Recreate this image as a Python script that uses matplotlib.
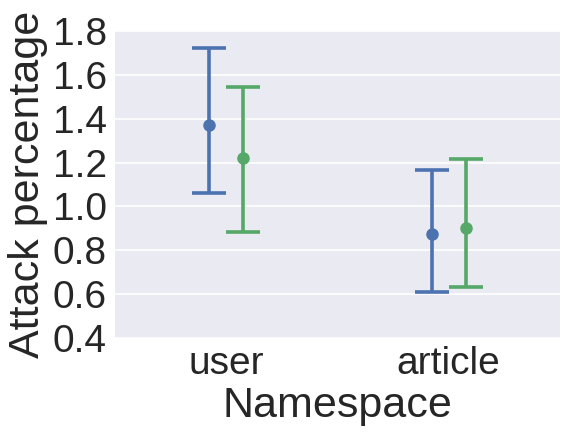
import numpy as np
import matplotlib
matplotlib.use('Agg')
import matplotlib.pyplot as plt

namespaces = ['user', 'article']
# two hue groups (blue, green)
blue_mean = [1.371, 0.874]
blue_low = [1.061, 0.610]
blue_high = [1.722, 1.166]
green_mean = [1.221, 0.902]
green_low = [0.883, 0.633]
green_high = [1.545, 1.216]

plt.rcParams['font.family'] = ['Liberation Sans', 'DejaVu Sans']

fig = plt.figure(figsize=(5.68, 4.33), dpi=100)
ax = fig.add_axes([115/568, 1-338/433, 445/568, 307/433])
ax.set_facecolor('#EAEAF2')
for s in ax.spines.values():
    s.set_visible(False)
ax.yaxis.grid(True, color='white', linewidth=1.2)
ax.set_axisbelow(True)

x = np.arange(len(namespaces))
d = 0.076
groups = [(blue_mean, blue_low, blue_high, '#4C72B0', -d),
          (green_mean, green_low, green_high, '#55A868', d)]
for m, lo, hi, c, off in groups:
    m = np.array(m)
    err = [m - np.array(lo), np.array(hi) - m]
    ax.errorbar(x + off, m, yerr=err, fmt='o', color=c, ms=8, elinewidth=2.6,
                capsize=12, capthick=2.6)

ax.set_xlim(-0.5, 1.5)
ax.set_ylim(0.4, 1.8)
ax.set_xticks(x)
ax.set_xticklabels(namespaces)
ax.set_yticks(np.arange(0.4, 1.81, 0.2))
ax.set_yticklabels(['%.1f' % v for v in np.arange(0.4, 1.81, 0.2)])
ax.tick_params(length=0, labelsize=28, labelcolor='#262626', pad=6)
ax.set_xlabel('Namespace', fontsize=31, color='#262626', labelpad=3)
ax.set_ylabel('Attack percentage', fontsize=31, color='#262626', labelpad=3)

fig.savefig('out.png', dpi=100)
